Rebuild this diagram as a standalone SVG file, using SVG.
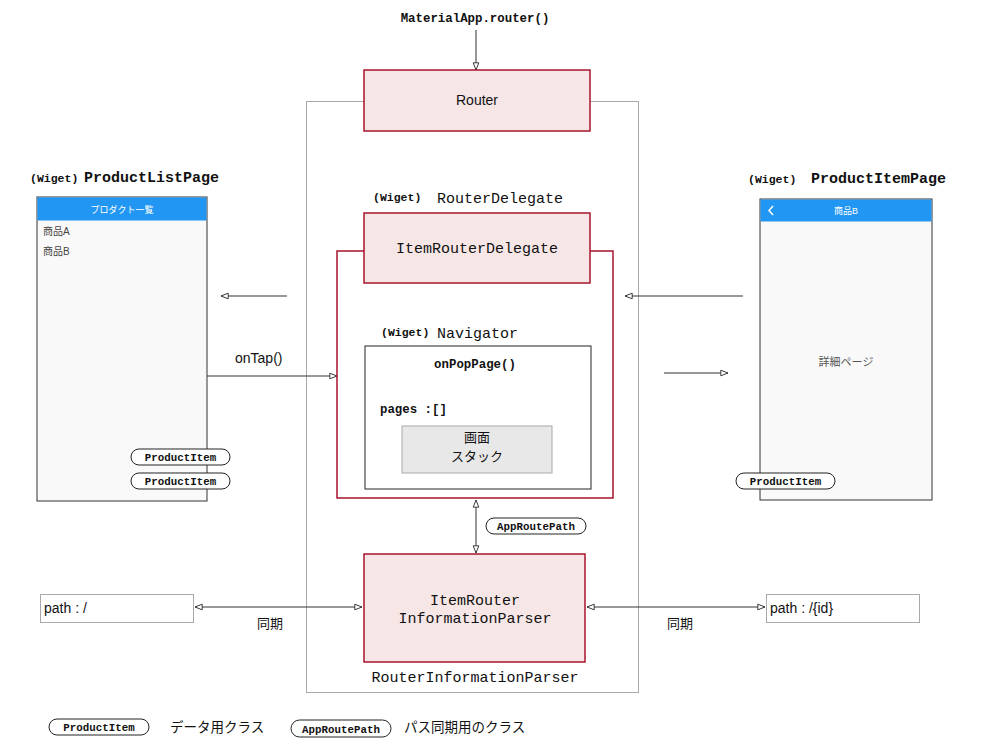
<svg xmlns="http://www.w3.org/2000/svg" width="1000" height="750" viewBox="0 0 1000 750">
<defs>
<marker id="ah" viewBox="0 0 10 10" refX="10" refY="5" markerWidth="8" markerHeight="8" orient="auto-start-reverse" markerUnits="userSpaceOnUse">
<path d="M1,1.5 L10,5 L1,8.5 Z" fill="#fff" stroke="#333" stroke-width="1.2"/>
</marker>
<style>
.mono{font-family:"Liberation Mono","DejaVu Sans Mono",monospace;font-weight:bold;fill:#111}
.monor{font-family:"Liberation Mono","DejaVu Sans Mono",monospace;fill:#111}
.sans{font-family:"Liberation Sans","Noto Sans CJK JP",sans-serif;fill:#111}
.red{fill:#f6e6e6;stroke:#a8132c;stroke-width:1.5}
.pill{fill:#fff;stroke:#222;stroke-width:1}
.line{stroke:#333;stroke-width:1;fill:none}
</style>
</defs>
<rect x="0" y="0" width="1000" height="750" fill="#fff"/>

<!-- outer container -->
<g id="container">
<rect x="306.5" y="101.5" width="332" height="591" fill="none" stroke="#aaa" stroke-width="1"/>
</g>

<!-- connectors -->
<g id="connectors">
<line class="line" x1="476" y1="30" x2="476" y2="70" marker-end="url(#ah)"/>
<line class="line" x1="287" y1="296" x2="221" y2="296" marker-end="url(#ah)"/>
<line class="line" x1="207" y1="376" x2="337" y2="376" marker-end="url(#ah)"/>
<line class="line" x1="743" y1="296" x2="625" y2="296" marker-end="url(#ah)"/>
<line class="line" x1="664" y1="373" x2="728" y2="373" marker-end="url(#ah)"/>
<line class="line" x1="477" y1="384" x2="477" y2="408" stroke-dasharray="3,3" marker-end="url(#ah)"/>
<line class="line" x1="476" y1="500" x2="476" y2="553" marker-start="url(#ah)" marker-end="url(#ah)"/>
<line class="line" x1="195" y1="607" x2="362" y2="607" marker-start="url(#ah)" marker-end="url(#ah)"/>
<line class="line" x1="587" y1="607" x2="765" y2="607" marker-start="url(#ah)" marker-end="url(#ah)"/>
<text class="sans" x="235" y="363" font-size="14">onTap()</text>
<text class="sans" x="257" y="628" font-size="13">同期</text>
<text class="sans" x="667" y="628" font-size="13">同期</text>
</g>

<g id="materialapp">
<text class="mono" x="475" y="22" font-size="12.4" text-anchor="middle">MaterialApp.router()</text>
</g>

<g id="router">
<rect class="red" x="364" y="70" width="226" height="61"/>
<text class="sans" x="477" y="105" font-size="14" text-anchor="middle">Router</text>
</g>

<!-- Product list page -->
<g id="productlistpage">
<text class="mono" x="30" y="182" font-size="11.5">(Wiget)</text>
<text class="monor" x="84" y="182" font-size="15" font-weight="bold">ProductListPage</text>
<rect x="37" y="197" width="170" height="304" fill="#f9f9f9" stroke="#333" stroke-width="1"/>
<rect x="37.5" y="197.5" width="169" height="23" fill="#2196f3"/>
<text class="sans" x="122" y="213" font-size="9" text-anchor="middle" style="fill:#fff">プロダクト一覧</text>
<text class="sans" x="43" y="235" font-size="10" style="fill:#444">商品A</text>
<text class="sans" x="43" y="255" font-size="10" style="fill:#444">商品B</text>
<rect class="pill" x="131" y="449" width="99" height="16" rx="8"/>
<text class="mono" x="180.5" y="461" font-size="10.8" text-anchor="middle">ProductItem</text>
<rect class="pill" x="131" y="473" width="99" height="16" rx="8"/>
<text class="mono" x="180.5" y="485" font-size="10.8" text-anchor="middle">ProductItem</text>
</g>

<!-- Product item page -->
<g id="productitempage">
<text class="mono" x="748" y="183" font-size="11.5">(Wiget)</text>
<text class="monor" x="811" y="183" font-size="15" font-weight="bold">ProductItemPage</text>
<rect x="760" y="199" width="172" height="301" fill="#f9f9f9" stroke="#333" stroke-width="1"/>
<rect x="760.5" y="199.5" width="171" height="22" fill="#2196f3"/>
<path d="M773,206 L769,210.5 L773,215" fill="none" stroke="#fff" stroke-width="1.5"/>
<text class="sans" x="846" y="214" font-size="9" text-anchor="middle" style="fill:#fff">商品B</text>
<text class="sans" x="846" y="366" font-size="11" text-anchor="middle" style="fill:#555">詳細ページ</text>
<rect class="pill" x="736" y="473" width="99" height="16" rx="8"/>
<text class="mono" x="785.5" y="485" font-size="10.8" text-anchor="middle">ProductItem</text>
</g>

<!-- Router delegate -->
<g id="routerdelegate">
<text class="mono" x="373" y="201" font-size="11.5">(Wiget)</text>
<text class="monor" x="437" y="203" font-size="15">RouterDelegate</text>
<rect x="337" y="251" width="276" height="247" fill="none" stroke="#a8132c" stroke-width="1.5"/>
<rect class="red" x="364" y="213" width="226" height="70"/>
<text class="monor" x="477" y="253" font-size="15" text-anchor="middle">ItemRouterDelegate</text>
</g>

<!-- Navigator -->
<g id="navigator">
<text class="mono" x="381" y="336" font-size="11.5">(Wiget)</text>
<text class="monor" x="437" y="338" font-size="15">Navigator</text>
<rect x="365" y="346" width="226" height="143" fill="#fff" stroke="#222" stroke-width="1"/>
<text class="mono" x="475" y="368" font-size="12.4" text-anchor="middle">onPopPage()</text>
<text class="mono" x="380" y="413" font-size="12.4">pages :[]</text>
</g>

<g id="stack">
<rect x="402" y="426" width="150" height="47" fill="#e8e8e8" stroke="#aaa" stroke-width="1"/>
<text class="sans" x="477" y="442" font-size="13" text-anchor="middle">画面</text>
<text class="sans" x="477" y="461" font-size="13" text-anchor="middle">スタック</text>
</g>

<g id="approutepath">
<rect class="pill" x="486" y="518" width="100" height="16" rx="8"/>
<text class="mono" x="536" y="530" font-size="10.8" text-anchor="middle">AppRoutePath</text>
</g>

<!-- Parser -->
<g id="parser">
<rect class="red" x="364" y="554" width="221" height="108"/>
<text class="monor" x="475" y="605" font-size="15" text-anchor="middle">ItemRouter</text>
<text class="monor" x="475" y="623" font-size="15" text-anchor="middle">InformationParser</text>
<text class="monor" x="475" y="682" font-size="15" text-anchor="middle">RouterInformationParser</text>
</g>

<g id="pathleft">
<rect x="40.5" y="594.5" width="153" height="28" fill="#fff" stroke="#aaa" stroke-width="1"/>
<text class="sans" x="44" y="613" font-size="14">path : /</text>
</g>
<g id="pathright">
<rect x="766.5" y="594.5" width="153" height="28" fill="#fff" stroke="#aaa" stroke-width="1"/>
<text class="sans" x="770" y="613" font-size="14">path : /{id}</text>
</g>

<!-- Legend -->
<g id="legend">
<rect class="pill" x="49" y="719" width="100" height="16" rx="8"/>
<text class="mono" x="99" y="731" font-size="10.8" text-anchor="middle">ProductItem</text>
<text class="sans" x="170" y="732" font-size="13.5">データ用クラス</text>
<rect class="pill" x="291" y="720" width="100" height="17" rx="8.5"/>
<text class="mono" x="341" y="732.5" font-size="10.8" text-anchor="middle">AppRoutePath</text>
<text class="sans" x="404" y="732" font-size="13.5">パス同期用のクラス</text>
</g>
</svg>
